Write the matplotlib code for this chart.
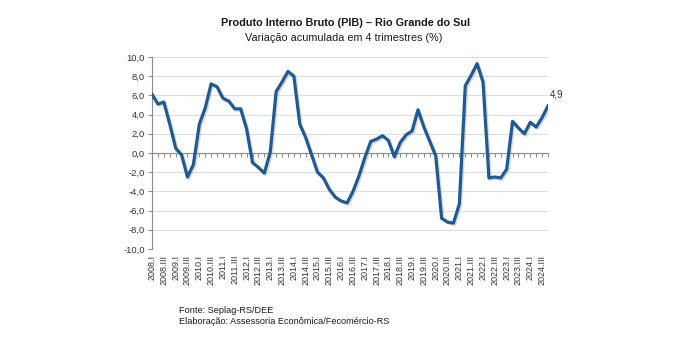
import numpy as np
import matplotlib.pyplot as plt
import matplotlib.patheffects as pe

plt.rcParams['font.family'] = ['Liberation Sans', 'DejaVu Sans']

# trimestres de 2008.I a 2024.IV
anos = list(range(2008, 2025))
romanos = ['I', 'II', 'III', 'IV']
trimestres = [f'{a}.{r}' for a in anos for r in romanos]

# variacao acumulada em 4 trimestres (%)
pib = [6.1, 5.1, 5.3, 3.0, 0.5, -0.2, -2.5, -1.2,
       3.0, 4.7, 7.2, 6.9, 5.7, 5.4, 4.6, 4.6,
       2.5, -1.0, -1.5, -2.1, 0.1, 6.4, 7.4, 8.5,
       8.0, 3.0, 1.6, -0.2, -2.0, -2.6, -3.8, -4.6,
       -5.0, -5.2, -4.0, -2.4, -0.5, 1.2, 1.45, 1.8,
       1.3, -0.4, 1.1, 1.9, 2.3, 4.5, 2.7, 1.2,
       -0.3, -6.8, -7.2, -7.3, -5.3, 7.0, 8.1, 9.3,
       7.4, -2.6, -2.5, -2.6, -1.7, 3.3, 2.6, 2.0,
       3.2, 2.7, 3.7, 4.9]

x = np.arange(len(trimestres))

fig = plt.figure(figsize=(6.87, 3.44), dpi=100)
ax = fig.add_axes([0.2213, 0.2762, 0.5764, 0.5581])

ax.plot(x, pib, color='#1f5a92', lw=2.3, solid_joinstyle='round',
        path_effects=[pe.SimpleLineShadow(offset=(1.0, -1.0), shadow_color='#a0a0a0', alpha=0.4),
                      pe.Normal()], zorder=3)

ax.set_xlim(0, len(x) - 1)
ax.set_ylim(-10, 10)
ax.set_yticks(np.arange(-10, 11, 2))
ax.set_yticklabels([f'{v:.1f}'.replace('.', ',') for v in np.arange(-10, 11, 2)])
ax.yaxis.grid(True, color='#dedede', lw=0.8)
ax.set_axisbelow(True)

for s in ['top', 'right']:
    ax.spines[s].set_visible(False)
ax.spines['left'].set_color('#8c8c8c')
ax.spines['bottom'].set_position(('data', 0))
ax.spines['bottom'].set_color('#8c8c8c')
ax.set_xticks(x)
ax.tick_params(axis='x', direction='out', length=3, color='#8c8c8c', labelbottom=False)
ax.tick_params(axis='y', direction='out', length=3, color='#8c8c8c', labelsize=6.8, pad=2,
               labelcolor='#333333')

# rotulos das categorias na base do grafico
sec = ax.secondary_xaxis(0.0)
sec.set_xticks(x[::2])
sec.set_xticklabels(trimestres[::2], rotation=90, fontsize=6.5, color='#333333')
sec.tick_params(length=0, pad=4)
sec.spines['bottom'].set_visible(False)

ax.annotate(f'{pib[-1]:.1f}'.replace('.', ','), (x[-1], pib[-1]), xytext=(1, 5),
            textcoords='offset points', fontsize=7, color='#333333', ha='left', va='bottom')

fig.text(0.503, 0.933, 'Produto Interno Bruto (PIB) – Rio Grande do Sul', ha='center', va='center',
         fontsize=7.8, fontweight='bold', color='#1a1a1a')
fig.text(0.501, 0.890, 'Variação acumulada em 4 trimestres (%)', ha='center', va='center',
         fontsize=7.8, color='#1a1a1a')

fig.text(0.260, 0.096, 'Fonte: Seplag-RS/DEE', ha='left', va='center', fontsize=6.6, color='#1a1a1a')
fig.text(0.260, 0.064, 'Elaboração: Assessoria Econômica/Fecomércio-RS', ha='left', va='center',
         fontsize=6.6, color='#1a1a1a')

fig.savefig('out.png', dpi=100)
